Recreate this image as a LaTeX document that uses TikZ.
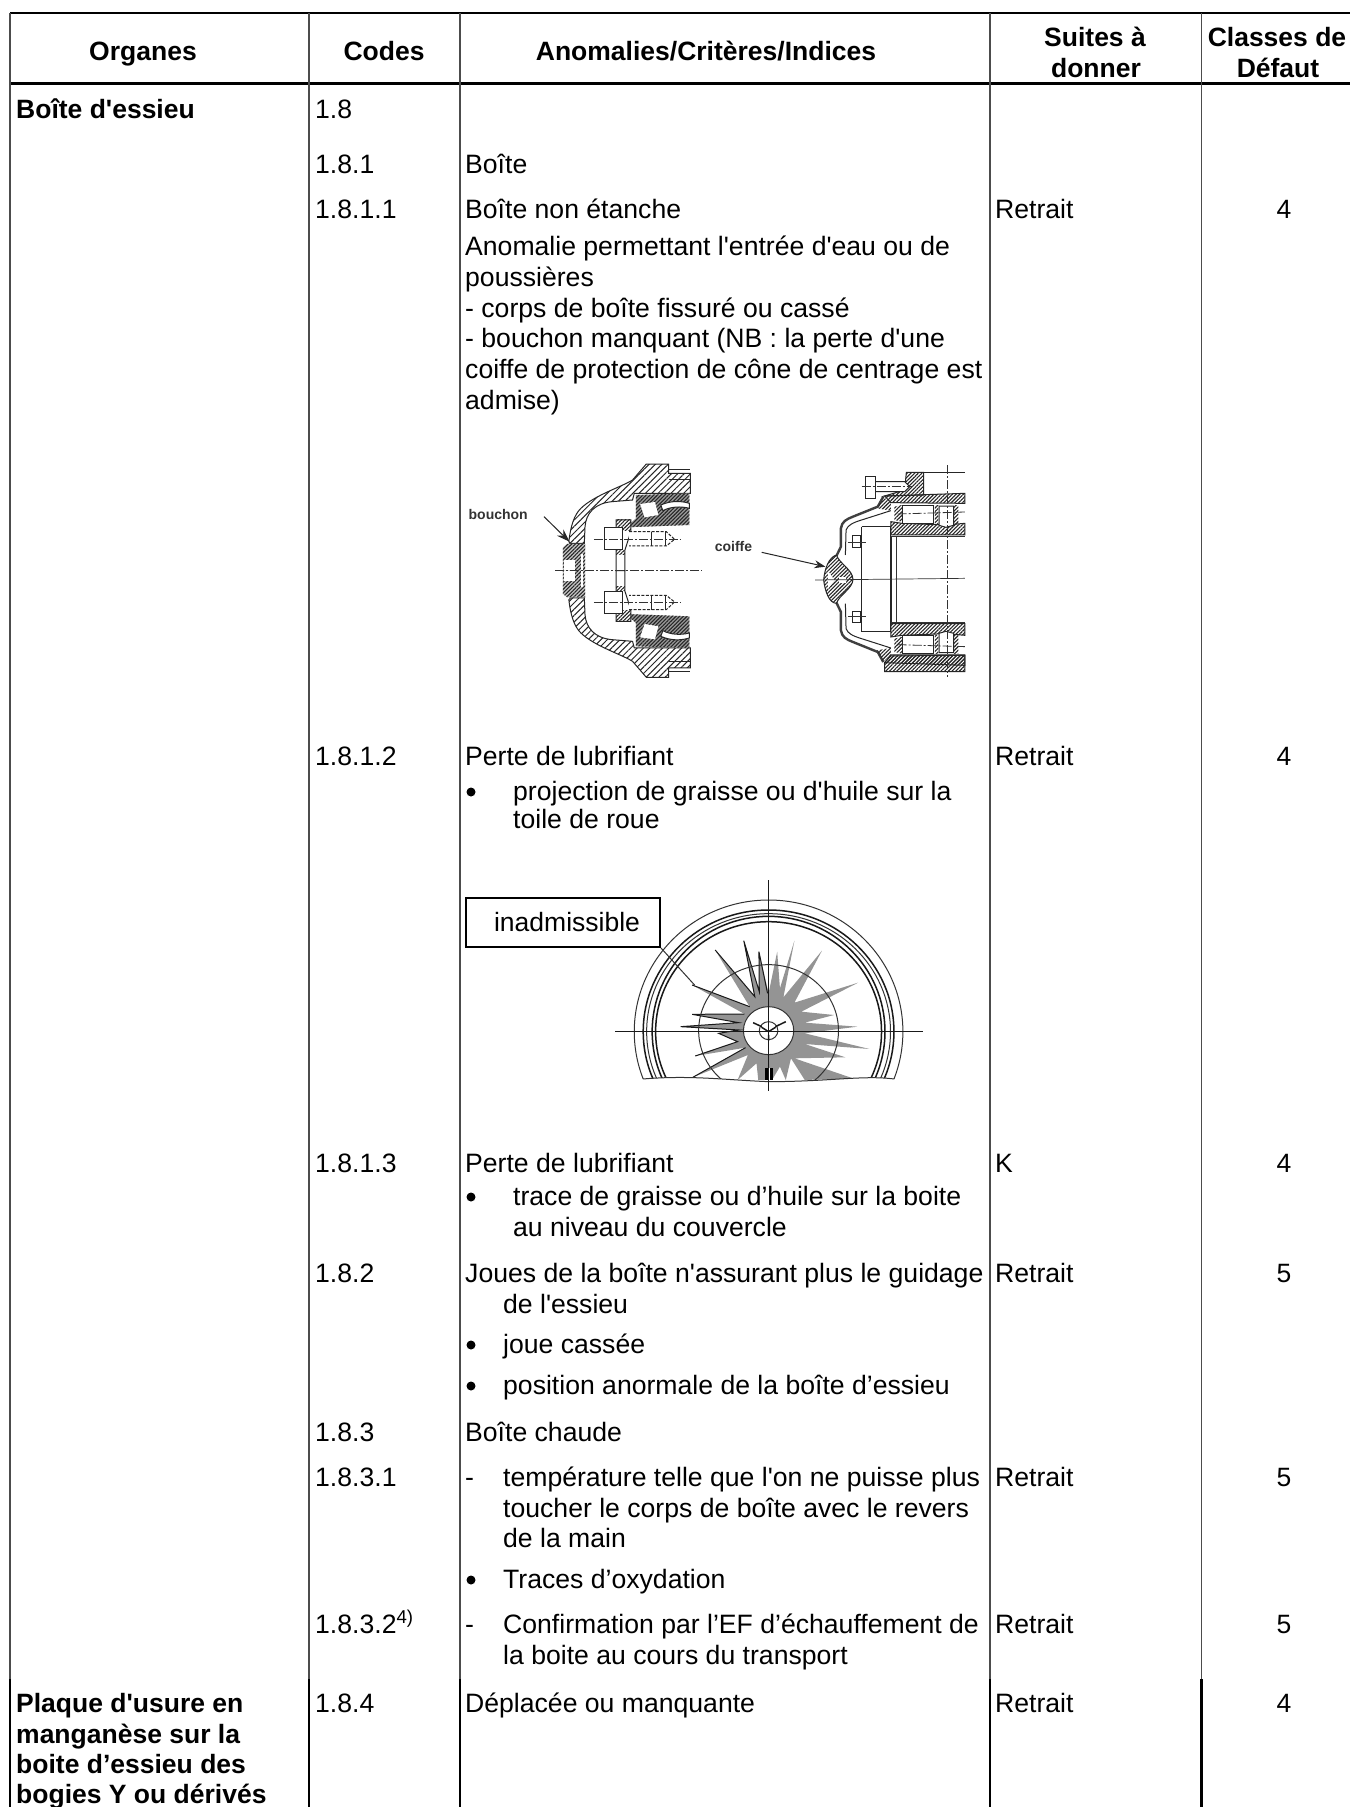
\documentclass[tikz,border=0pt]{standalone}
\usepackage{fontspec}
\setmainfont[Ligatures=TeXOff]{Liberation Sans}
\usetikzlibrary{arrows.meta,patterns.meta}
\tikzset{
  tx/.style={anchor=base west,inner sep=0pt,font=\fontsize{26.6}{30}\selectfont},
  txb/.style={anchor=base west,inner sep=0pt,font=\fontsize{26.5}{30}\selectfont\bfseries},
  cx/.style={anchor=base,inner sep=0pt,font=\fontsize{26.5}{30}\selectfont},
  hd/.style={anchor=base,inner sep=0pt,font=\fontsize{26.5}{30}\selectfont\bfseries},
  bul/.style={circle,fill=black,inner sep=0pt,minimum size=9pt},
  fig/.style={anchor=center,inner sep=0pt,font=\fontsize{14}{16}\selectfont\bfseries,text=black!80},
  rule/.style={line width=2.6pt,black},
  vup/.style={line width=1.6pt,black!70},
  vlow/.style={line width=2.4pt,black},
  hatch/.style={pattern={Lines[angle=45,distance=4.5pt,line width=1pt]},pattern color=black!85},
  hatchd/.style={pattern={Lines[angle=45,distance=2.6pt,line width=1.1pt]},pattern color=black!85},
  dark/.style={fill=black!40},
  ln/.style={line width=1pt,black!85},
  thinl/.style={line width=.7pt,black!80},
  axisl/.style={line width=.8pt,black!80,dash pattern=on 9pt off 2pt on 2pt off 2pt},
  wl/.style={line width=1pt,black!80},
  wlk/.style={line width=1.5pt,black!90},
}
% upper half of the left bearing drawing, in zoom coordinates
\newcommand{\leftHalf}{%
  \draw[ln,hatch] (345,305) .. controls (350,260) and (360,225) .. (380,205)
    .. controls (420,165) and (500,140) .. (530,120) -- (570,72) -- (635,72) -- (635,100) -- (698,100)
    -- (698,160) -- (535,160) -- (530,180) -- (470,185) .. controls (420,190) and (395,220) .. (392,260)
    -- (390,310) -- (350,310) -- cycle;
  \draw[ln] (635,88) -- (698,88) (635,118) -- (698,118);
  \path[dark] (540,165) -- (695,160) -- (695,255) -- (510,262) -- (540,235) -- cycle;
  \path[hatchd] (540,165) -- (695,160) -- (695,255) -- (510,262) -- (540,235) -- cycle;
  \path[fill=white] (552,192) -- (595,186) -- (605,225) -- (565,232) -- cycle;
  \draw[ln,fill=white] (612,195) .. controls (640,182) and (670,182) .. (695,190)
    -- (695,205) .. controls (670,198) and (640,200) .. (618,212) -- cycle;
  \draw[ln,fill=white] (482,240) -- (525,240) -- (525,275) -- (508,330) -- (508,392) -- (482,392) -- cycle;
  \path[hatchd] (482,240) -- (525,240) -- (525,272) -- (482,272) -- cycle;
  \path[hatchd] (482,332) -- (508,332) -- (508,345) -- (482,345) -- cycle;
  \draw[ln,dash pattern=on 3pt off 1.5pt,fill=white] (520,275) -- (628,275) -- (652,298) -- (628,318) -- (520,318);
  \draw[ln,fill=white] (450,262) -- (500,262) -- (500,330) -- (450,330) -- cycle;
  \draw[ln] (585,275) -- (585,318) (625,275) -- (625,318);
  \draw[axisl] (418,298) -- (672,298);
  \path[hatch] (345,310) -- (392,310) -- (392,325) -- (345,325) -- cycle;
  \path[fill=black!22] (328,322) -- (340,312) -- (392,312) -- (392,392) -- (328,392) -- cycle;
  \path[hatchd] (328,322) -- (340,312) -- (392,312) -- (392,392) -- (328,392) -- cycle;
  \path[fill=white] (330,360) -- (362,360) -- (362,392) -- (330,392) -- cycle;
  \path[fill=white] (380,342) -- (386,342) -- (386,392) -- (380,392) -- cycle;
}
% upper half of the right bearing drawing
\newcommand{\rightHalf}{%
  \draw[line width=2.4pt,black!75] (1122,348) -- (1135,320) -- (1135,265) .. controls (1138,245) and (1150,238) .. (1170,230)
    -- (1242,200) -- (1258,170);
  \draw[ln] (1148,345) -- (1150,270) .. controls (1155,255) and (1170,248) .. (1195,240) -- (1280,212);
  \path[hatchd] (1240,205) -- (1258,170) -- (1280,190) -- (1280,212) -- cycle;
  \draw[ln,hatchd] (1262,168) -- (1495,160) -- (1495,190) -- (1280,188) -- cycle;
  \draw[ln] (1195,260) -- (1278,260) -- (1278,418);
  \draw[ln] (1195,260) -- (1195,418);
  \draw[line width=1.8pt,black!85] (1281,290) -- (1281,418);
  \draw[thinl] (1296,290) -- (1296,418);
  \draw[thinl] (1281,290) -- (1495,290);
  \draw[ln,hatchd] (1280,245) -- (1312,250) -- (1440,255) -- (1495,250) -- (1495,285) -- (1280,285) -- cycle;
  \draw[ln,fill=white] (1315,195) -- (1405,195) -- (1405,250) -- (1315,250) -- cycle;
  \draw[ln,fill=white] (1420,198) -- (1462,198) -- (1462,256) -- (1440,262) -- (1420,256) -- cycle;
  \path[hatchd] (1290,200) -- (1312,195) -- (1312,245) -- (1290,240) -- cycle;
  \path[hatchd] (1408,195) -- (1418,195) -- (1418,250) -- (1408,250) -- cycle;
  \path[hatchd] (1464,195) -- (1476,195) -- (1476,250) -- (1464,250) -- cycle;
  \draw[axisl] (1300,222) -- (1495,216);
  \draw[ln,fill=white] (1170,288) -- (1192,288) -- (1192,322) -- (1170,322) -- cycle;
  \draw[thinl] (1155,306) -- (1208,306);
}
\begin{document}
\begin{tikzpicture}[x=1pt,y=-1pt]
\useasboundingbox (0,0) rectangle (1350,1807);
\fill[white] (0,0) rectangle (1350,1807);
% table rules
\coordinate (TL) at (10,13);
\coordinate (TR) at (1350,13);
\coordinate (HL) at (10,83.5);
\coordinate (HR) at (1350,83.5);
\draw[rule] (TL) -- (TR);
\draw[rule] (HL) -- (HR);
\foreach \c/\xx in {A/10,B/309,C/460,D/990,E/1201.5}{
  \coordinate (col\c top) at (\xx,13);
  \coordinate (col\c mid) at (\xx,1679);
  \coordinate (col\c bot) at (\xx,1807);
  \draw[vup] (col\c top) -- (col\c mid);
  \draw[vlow] (col\c mid) -- (col\c bot);
}
% header
\node[hd] (h1) at (143,60) {Organes};
\node[hd] (h2) at (384,60) {Codes};
\node[hd] (h3) at (706,60) {Anomalies/Critères/Indices};
\node[hd] (h4a) at (1095,46) {Suites à};
\node[hd] (h4b) at (1096,77) {donner};
\node[hd] (h5a) at (1277,46) {Classes de};
\node[hd] (h5b) at (1278,77) {Défaut};
% organes
\node[txb] (o1) at (16,118) {Boîte d'essieu};
\node[txb] (o2) at (16,1712) {Plaque d'usure en};
\node[txb] (o3) at (16,1743) {manganèse sur la};
\node[txb] (o4) at (16,1773) {boite d’essieu des};
\node[txb] (o5) at (16,1803) {bogies Y ou dérivés};
% codes
\foreach \n/\yy/\t in {a/118/1.8,b/173/1.8.1,c/218/1.8.1.1,d/765/1.8.1.2,e/1172/1.8.1.3,f/1282/1.8.2,g/1441/1.8.3,h/1486/1.8.3.1,j/1712/1.8.4}
  \node[tx] (code\n) at (315,\yy) {\t};
\node[tx] (codei) at (315,1633) {1.8.3.2\textsuperscript{4)}};
% anomalies
\node[tx] (t1) at (465,173) {Boîte};
\node[tx] (t2) at (465,218) {Boîte non étanche};
\node[tx] (t3) at (465,255) {Anomalie permettant l'entrée d'eau ou de};
\node[tx] (t4) at (465,286) {poussières};
\node[tx] (t5) at (465,317) {- corps de boîte fissuré ou cassé};
\node[tx] (t6) at (465,347) {- bouchon manquant (NB : la perte d'une};
\node[tx] (t7) at (465,378) {coiffe de protection de cône de centrage est};
\node[tx] (t8) at (465,409) {admise)};
\node[tx] (t9) at (465,765) {Perte de lubrifiant};
\node[bul] (b1) at (471,792) {};
\node[tx] (t10) at (513,800) {projection de graisse ou d'huile sur la};
\node[tx] (t11) at (513,828) {toile de roue};
\node[tx] (t12) at (465,1172) {Perte de lubrifiant};
\node[bul] (b2) at (471,1197) {};
\node[tx] (t13) at (513,1205) {trace de graisse ou d’huile sur la boite};
\node[tx] (t14) at (513,1236) {au niveau du couvercle};
\node[tx] (t15) at (465,1282) {Joues de la boîte n'assurant plus le guidage};
\node[tx] (t16) at (503,1313) {de l'essieu};
\node[bul] (b3) at (471,1345) {};
\node[tx] (t17) at (503,1353) {joue cassée};
\node[bul] (b4) at (471,1386) {};
\node[tx] (t18) at (503,1394) {position anormale de la boîte d’essieu};
\node[tx] (t19) at (465,1441) {Boîte chaude};
\node[tx] (d1) at (465,1486) {-};
\node[tx] (t20) at (503,1486) {température telle que l'on ne puisse plus};
\node[tx] (t21) at (503,1517) {toucher le corps de boîte avec le revers};
\node[tx] (t22) at (503,1547) {de la main};
\node[bul] (b5) at (471,1580) {};
\node[tx] (t23) at (503,1588) {Traces d’oxydation};
\node[tx] (d2) at (465,1633) {-};
\node[tx] (t24) at (503,1633) {Confirmation par l’EF d’échauffement de};
\node[tx] (t25) at (503,1664) {la boite au cours du transport};
\node[tx] (t26) at (465,1712) {Déplacée ou manquante};
% suites + classes
\foreach \n/\yy/\s/\k in {a/218/Retrait/4,b/765/Retrait/4,c/1172/K/4,d/1282/Retrait/5,e/1486/Retrait/5,f/1633/Retrait/5,g/1712/Retrait/4}{
  \node[tx] (s\n) at (995,\yy) {\s};
  \node[cx] (k\n) at (1284,\yy) {\k};
}
% ---- bearing drawings (zoom coordinates)
\begin{scope}[shift={(450,440)},x=0.3444pt,y=-0.3333pt]
  \begin{scope}\leftHalf\end{scope}
  \begin{scope}[shift={(0,784)},yscale=-1]\leftHalf\end{scope}
  \draw[axisl] (305,392) -- (730,392);
  \node[fig] (bouchon) at (140,222) {bouchon};
  \coordinate (ba) at (273,230);
  \coordinate (bb) at (347,305);
  \draw[line width=1pt,black!85,-{Stealth[length=13pt,width=9pt]}] (ba) -- (bb);
  % right
  \begin{scope}\rightHalf\end{scope}
  \begin{scope}[shift={(0,836)},yscale=-1]\rightHalf\end{scope}
  % top extras
  \draw[ln,hatchd] (1262,168) -- (1320,150) -- (1325,97) -- (1375,97) -- (1375,165) -- cycle;
  \draw[ln] (1375,97) -- (1495,97);
  \draw[ln,hatchd] (1262,668) -- (1262,695) -- (1495,695) -- (1495,645) -- (1280,645) -- cycle;
  \draw[ln,fill=white] (1235,125) -- (1320,125) -- (1335,140) -- (1320,155) -- (1235,155) -- cycle;
  \draw[ln,fill=white] (1205,110) -- (1235,110) -- (1235,175) -- (1205,175) -- cycle;
  \draw[axisl] (1195,140) -- (1345,140);
  % cap
  \draw[ln,fill=white] (1122,345) .. controls (1130,370) and (1170,390) .. (1170,418) .. controls (1170,445) and (1130,465) .. (1122,490)
    .. controls (1100,490) and (1088,450) .. (1085,420) .. controls (1088,385) and (1100,352) .. (1122,345) -- cycle;
  \path[hatchd] (1122,345) .. controls (1130,370) and (1170,390) .. (1170,418) .. controls (1170,445) and (1130,465) .. (1122,490)
    .. controls (1100,490) and (1088,450) .. (1085,420) .. controls (1088,385) and (1100,352) .. (1122,345) -- cycle;
  \path[fill=white] (1097,392) -- (1116,420) -- (1097,448) -- cycle;
  \path[fill=white] (1130,412) -- (1150,412) -- (1150,430) -- (1130,430) -- cycle;
  \draw[axisl] (1443,75) -- (1443,710);
  \draw[thinl] (1060,420) -- (1495,415);
  \node[fig] (coiffe) at (823,320) {coiffe};
  \coordinate (ca) at (905,337);
  \coordinate (cb) at (1090,380);
  \draw[line width=1pt,black!85,-{Stealth[length=11pt,width=8pt]}] (ca) -- (cb);
\end{scope}
% ---- wheel (zoom coordinates)
\begin{scope}[shift={(450,880)},x=0.3444pt,y=-0.3333pt]
  \coordinate (lead) at (710,315);
  % spokes
  \begin{scope}
    \clip (400,0) -- (1400,0) -- (1400,597) -- (1290,597) .. controls (1200,585) and (1100,605) .. (925,605)
      .. controls (800,600) and (700,585) .. (560,597) -- (400,597) -- cycle;
    \path[fill=black!42] (705,592) -- (858,503) -- (712,528) -- (835,485) -- (780,460) -- (840,450) -- (670,440) -- (838,428)
      -- (703,403) -- (855,402) -- (703,315) -- (870,380) -- (770,210) -- (885,350) -- (853,182) -- (898,335) -- (897,215)
      -- (925,340) -- (950,215) -- (958,325) -- (1000,182) -- (968,352) -- (1080,212) -- (1000,368) -- (1185,308) -- (1020,395)
      -- (1115,405) -- (1030,428) -- (1183,440) -- (1030,460) -- (1218,507) -- (1030,492) -- (1148,532) -- (1000,535)
      -- (1170,595) -- (1030,600) -- (990,535) -- (975,600) -- (958,560) -- (935,600) -- (895,600) -- (890,550) -- (835,600) -- (865,525) -- cycle;
    \draw[line width=1pt,black!90] (705,592) -- (858,503) (712,528) -- (835,485) -- (780,460) -- (840,450) -- (670,440) -- (838,428)
      -- (703,403) -- (855,402) (703,315) -- (870,380) (770,210) -- (885,350) -- (853,182) -- (898,335) -- (897,215) -- (922,340);
    \draw[wl] (925,452) ellipse [x radius=203,y radius=198];
    \draw[wl] (925,455) ellipse [x radius=390,y radius=395];
    \draw[wlk] (925,455) ellipse [x radius=364,y radius=365];
    \draw[wl] (925,455) ellipse [x radius=354,y radius=354];
    \draw[wlk] (925,455) ellipse [x radius=338,y radius=346];
    \draw[wlk] (925,455) ellipse [x radius=328,y radius=330];
  \end{scope}
  % hub
  \draw[wl,fill=white] (925,452) ellipse [x radius=73,y radius=72];
  \path[fill=black] (915,563) rectangle (937,600);
  \draw[line width=1.2pt,white] (926,563) -- (926,600);
  % centre detail
  \draw[wl] (925,452) ellipse [x radius=27,y radius=27];
  \draw[wlk] (880,428) -- (905,440) (975,425) -- (945,440) (925,465) -- (925,482) (905,442) -- (925,455) -- (945,442);
  \draw[wl] (560,597) .. controls (700,585) and (800,600) .. (925,605) .. controls (1100,605) and (1200,585) .. (1290,597);
  % cross lines
  \draw[wlk] (925,0) -- (925,632);
  \draw[wlk] (480,455) -- (1372,455);
\end{scope}
% label box
\node[draw=black,line width=1.8pt,inner sep=0pt,minimum width=194pt,minimum height=49pt,fill=white,
    font=\fontsize{26.5}{30}\selectfont] (inad) at (563,922.5) {\hspace*{8pt}inadmissible};
\draw[wl] (inad.south east) -- (lead);
\end{tikzpicture}
\end{document}
